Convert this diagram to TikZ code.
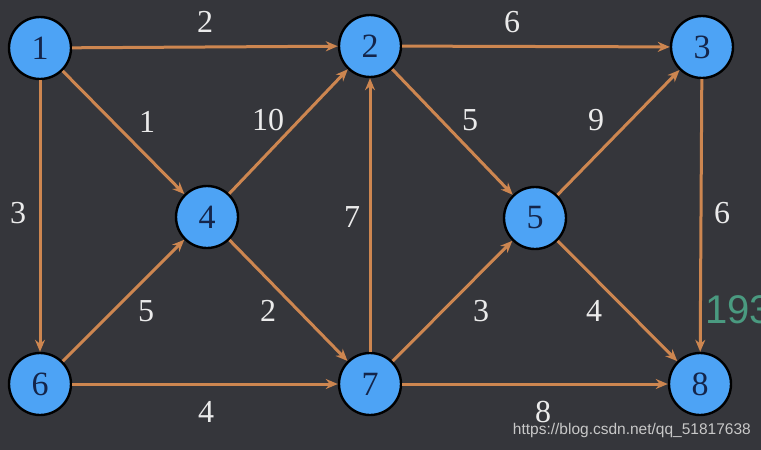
\documentclass[tikz,border=0pt]{standalone}
\usepackage{fontspec}
\setmainfont{Liberation Serif}
\newfontfamily\wmfont{Liberation Sans}
\usetikzlibrary{arrows.meta}
\definecolor{bgc}{HTML}{35363B}
\definecolor{nodefill}{HTML}{4DA3F5}
\definecolor{nodetext}{HTML}{14254A}
\definecolor{edgec}{HTML}{CD8650}
\definecolor{wmgreen}{HTML}{4A9A80}
\definecolor{wmgray}{HTML}{C8C8C8}
\tikzset{
  vert/.style={circle, draw=black, line width=2.4pt, fill=nodefill, minimum size=62pt, inner sep=0pt, text=nodetext, font=\fontsize{34}{34}\selectfont},
  edge/.style={draw=edgec, line width=3pt, -{Stealth[length=12pt,width=10pt]}},
  wlabel/.style={text=white!92!black, font=\fontsize{32}{32}\selectfont, inner sep=0pt}
}
\begin{document}
\begin{tikzpicture}[x=1pt,y=-1pt]
\fill[bgc] (0,0) rectangle (761,450);
\useasboundingbox (0,0) rectangle (761,450);
\clip (0,0) rectangle (761,450);
\node[vert] (n1) at (40,48) {1};
\node[vert] (n2) at (370,46) {2};
\node[vert] (n3) at (702,47) {3};
\node[vert] (n4) at (207,217) {4};
\node[vert] (n5) at (535,218) {5};
\node[vert] (n6) at (40,384) {6};
\node[vert] (n7) at (370,384) {7};
\node[vert] (n8) at (700,384) {8};
\draw[edge] (n1) -- (n2);
\draw[edge] (n2) -- (n3);
\draw[edge] (n1) -- (n4);
\draw[edge] (n4) -- (n2);
\draw[edge] (n1) -- (n6);
\draw[edge] (n6) -- (n4);
\draw[edge] (n4) -- (n7);
\draw[edge] (n7) -- (n2);
\draw[edge] (n2) -- (n5);
\draw[edge] (n5) -- (n3);
\draw[edge] (n3) -- (n8);
\draw[edge] (n7) -- (n5);
\draw[edge] (n5) -- (n8);
\draw[edge] (n6) -- (n7);
\draw[edge] (n7) -- (n8);
\node[wlabel] (l12) at (205,22) {2};
\node[wlabel] (l23) at (512,22) {6};
\node[wlabel] (l14) at (147,122) {1};
\node[wlabel] (l42) at (268,120) {10};
\node[wlabel] (l25) at (470,120) {5};
\node[wlabel] (l53) at (596,120) {9};
\node[wlabel] (l16) at (18,213) {3};
\node[wlabel] (l72) at (352,217) {7};
\node[wlabel] (l38) at (722,213) {6};
\node[wlabel] (l64) at (146,311) {5};
\node[wlabel] (l47) at (268,311) {2};
\node[wlabel] (l75) at (481,311) {3};
\node[wlabel] (l58) at (594,311) {4};
\node[wlabel] (l67) at (206,412) {4};
\node[wlabel] (l78) at (543,412) {8};
\node[anchor=west, inner sep=0pt, text=wmgreen, font=\wmfont\fontsize{40}{40}\selectfont] (wm1) at (705,310) {193};
\node[anchor=east, inner sep=0pt, text=wmgray, font=\wmfont\fontsize{15.5}{15.5}\selectfont] (wm2) at (751,430) {https://blog.csdn.net/qq\_51817638};
\end{tikzpicture}
\end{document}
